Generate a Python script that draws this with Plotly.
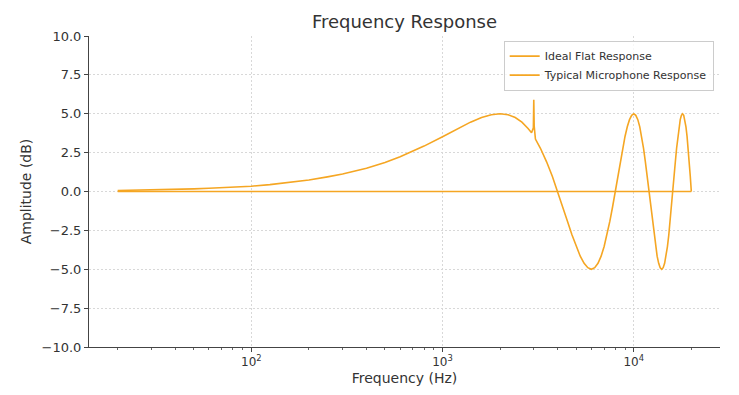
import plotly.graph_objects as go

# Ideal flat response
flat_freq = [20, 20000]
flat_amp = [0.0, 0.0]

# Typical microphone response
mic_freq = [20, 25, 30, 40, 50, 60, 80, 100, 125, 150, 200, 250, 300, 400, 500, 600, 700, 800,
            1000, 1200, 1400, 1600, 1800, 2000, 2200, 2400, 2600, 2800, 2920, 2985, 3000, 3015, 3060,
            3250, 3500, 3750, 4000, 4250, 4500, 4750, 5000, 5250, 5500, 5750, 6000, 6250, 6500,
            6750, 7000, 7250, 7500, 7750, 8000, 8250, 8500, 8750, 9000, 9250, 9500, 9750, 10000,
            10250, 10500, 10750, 11000, 11250, 11500, 11750, 12000, 12250, 12500, 12750, 13000,
            13250, 13500, 13750, 14000, 14250, 14500, 14750, 15000, 15250, 15500, 15750, 16000,
            16250, 16500, 16750, 17000, 17250, 17500, 17750, 18000, 18250, 18500, 18750, 19000,
            19250, 19500, 19750, 20000]
mic_amp = [0.06, 0.08, 0.10, 0.13, 0.17, 0.21, 0.28, 0.34, 0.44, 0.54, 0.74, 0.94, 1.12, 1.50, 1.87,
           2.24, 2.58, 2.92, 3.52, 4.05, 4.46, 4.76, 4.94, 5.00, 4.94, 4.76, 4.46, 4.05, 3.78, 4.10,
           5.90, 4.20, 3.37, 2.78, 1.91, 0.98, 0.00, -0.98, -1.91, -2.78, -3.54, -4.16, -4.62, -4.90,
           -5.00, -4.90, -4.62, -4.16, -3.54, -2.78, -1.91, -0.98, 0.00, 0.98, 1.91, 2.78, 3.54, 4.16,
           4.62, 4.90, 5.00, 4.90, 4.62, 4.16, 3.54, 2.78, 1.91, 0.98, 0.00, -0.98, -1.91, -2.78, -3.54,
           -4.16, -4.62, -4.90, -5.00, -4.90, -4.62, -4.16, -3.54, -2.78, -1.91, -0.98, 0.00, 0.98,
           1.91, 2.78, 3.54, 4.16, 4.62, 4.90, 5.00, 4.90, 4.62, 4.16, 3.54, 2.78, 1.91, 0.98, 0.00]

y_ticks = [-10, -7.5, -5, -2.5, 0, 2.5, 5, 7.5, 10]
y_labels = ["\u221210.0", "\u22127.5", "\u22125.0", "\u22122.5", "0.0", "2.5", "5.0", "7.5", "10.0"]
x_ticks = [100, 1000, 10000]
x_labels = ["10<sup>2</sup>", "10<sup>3</sup>", "10<sup>4</sup>"]
x_minor = [20, 30, 40, 50, 60, 70, 80, 90, 200, 300, 400, 500, 600, 700, 800, 900,
           2000, 3000, 4000, 5000, 6000, 7000, 8000, 9000, 20000]

COLOR = "#F5A623"
FONT = "DejaVu Sans"
TXT = "#333333"

fig = go.Figure()
fig.add_trace(go.Scatter(x=flat_freq, y=flat_amp, mode="lines", name="Ideal Flat Response",
                         line=dict(color=COLOR, width=1.6)))
fig.add_trace(go.Scatter(x=mic_freq, y=mic_amp, mode="lines", name="Typical Microphone Response",
                         line=dict(color=COLOR, width=1.6)))

grid = "#d8d8d8"
fig.update_layout(
    width=731, height=387,
    margin=dict(l=81, r=19, t=28, b=44),
    paper_bgcolor="white", plot_bgcolor="white",
    font=dict(family=FONT, color=TXT, size=11),
    title=dict(text="Frequency Response", x=0.5, xref="paper", xanchor="center",
               y=0.98, yanchor="top", font=dict(size=18, family=FONT, color=TXT)),
    legend=dict(x=0.99, y=0.985, xanchor="right", yanchor="top",
                bordercolor="#cccccc", borderwidth=1, bgcolor="rgba(255,255,255,0.8)",
                font=dict(size=11, family=FONT, color=TXT), tracegroupgap=0),
    showlegend=True,
)
fig.update_xaxes(
    type="log", range=[1.151, 4.451],
    tickvals=x_ticks, ticktext=x_labels,
    showline=True, linecolor="#444444", linewidth=1,
    ticks="outside", ticklen=4, tickcolor="#444444",
    showgrid=True, gridcolor=grid, griddash="2px,2px", gridwidth=0.8,
    minor=dict(tickmode="array", tickvals=x_minor, ticks="outside", ticklen=2,
               tickcolor="#666666", showgrid=False),
    title=dict(text="Frequency (Hz)", font=dict(size=14, family=FONT, color=TXT), standoff=4),
    tickfont=dict(size=12, color=TXT), zeroline=False, mirror=False,
)
fig.update_yaxes(
    range=[-10, 10], tickvals=y_ticks, ticktext=y_labels,
    showline=True, linecolor="#444444", linewidth=1,
    ticks="outside", ticklen=4, tickcolor="#444444",
    showgrid=True, gridcolor=grid, griddash="2px,2px", gridwidth=0.8,
    title=dict(text="Amplitude (dB)", font=dict(size=14, family=FONT, color=TXT), standoff=6),
    tickfont=dict(size=13, color=TXT), zeroline=False,
)

fig.write_html("out.html")
